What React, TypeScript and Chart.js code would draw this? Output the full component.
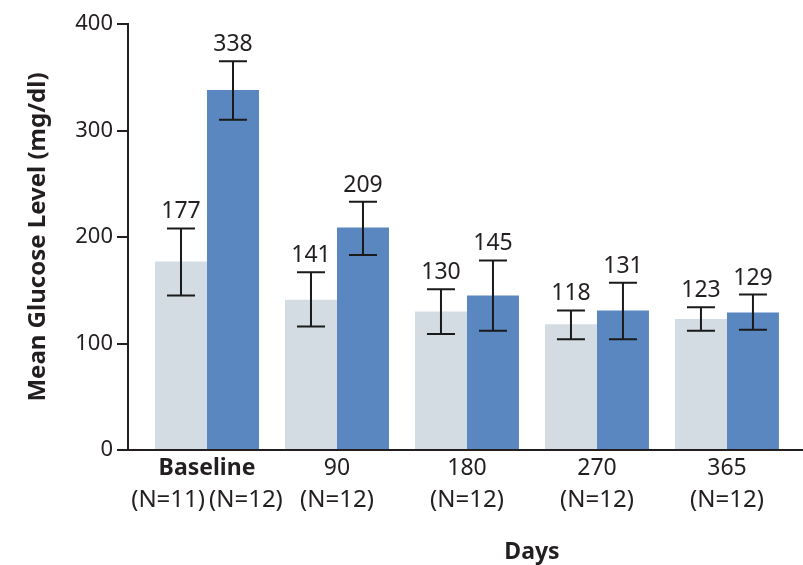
import React, { useEffect, useRef } from 'react';
import { Chart, registerables } from 'chart.js';

Chart.register(...registerables);

const dayLabels = ['Baseline', '90', '180', '270', '365'];
const nLabels = ['(N=11)\u2009(N=12)', '(N=12)', '(N=12)', '(N=12)', '(N=12)'];
const axisTitleX = 'Days';
const axisTitleY = 'Mean Glucose Level (mg/dl)';

const seriesA = [177, 141, 130, 118, 123];
const seriesALow = [145, 116, 109, 104, 112];
const seriesAHigh = [208, 167, 151, 131, 134];

const seriesB = [338, 209, 145, 131, 129];
const seriesBLow = [310, 183, 112, 104, 113];
const seriesBHigh = [365, 233, 178, 157, 146];

const yMin = 0;
const yMax = 400;
const yStep = 100;

const FONT = '"Noto Sans", "Open Sans", sans-serif';
const INK = '#231f20';

const lows = [seriesALow, seriesBLow];
const highs = [seriesAHigh, seriesBHigh];

const X_MIN = -0.6077;
const X_MAX = 4.585;

const errorBarPlugin = {
  id: 'errorBarsAndLabels',
  afterDatasetsDraw(chart: any) {
    const ctx = chart.ctx;
    const y = chart.scales.y;
    chart.data.datasets.forEach((ds: any, di: number) => {
      const meta = chart.getDatasetMeta(di);
      meta.data.forEach((el: any, i: number) => {
        const x = el.x;
        const top = y.getPixelForValue(highs[di][i]);
        const bot = y.getPixelForValue(lows[di][i]);
        const cap = 14;
        ctx.save();
        ctx.strokeStyle = '#1a1a1a';
        ctx.lineWidth = 2;
        ctx.beginPath();
        ctx.moveTo(x, top);
        ctx.lineTo(x, bot);
        ctx.moveTo(x - cap, top);
        ctx.lineTo(x + cap, top);
        ctx.moveTo(x - cap, bot);
        ctx.lineTo(x + cap, bot);
        ctx.stroke();
        ctx.fillStyle = INK;
        ctx.font = `23px ${FONT}`;
        ctx.textAlign = 'center';
        ctx.textBaseline = 'alphabetic';
        ctx.fillText(String(ds.data[i].y), x, top - 10);
        ctx.restore();
      });
    });
  },
};

const tickSetter = (values: number[]) => (scale: any) => {
  scale.ticks = values.map((v) => ({ value: v }));
};

export default function App() {
  const canvasRef = useRef<HTMLCanvasElement | null>(null);

  useEffect(() => {
    if (!canvasRef.current) return;
    const idx = dayLabels.map((_, i) => i);
    const chart = new Chart(canvasRef.current, {
      type: 'bar',
      data: {
        datasets: [
          {
            label: 'Group 1',
            data: seriesA.map((v, i) => ({ x: i, y: v })),
            backgroundColor: '#d3dce3',
            borderWidth: 0,
            xAxisID: 'x',
            yAxisID: 'y',
            categoryPercentage: 0.8,
            barPercentage: 1.0,
          },
          {
            label: 'Group 2',
            data: seriesB.map((v, i) => ({ x: i, y: v })),
            backgroundColor: '#5b87c0',
            borderWidth: 0,
            xAxisID: 'x',
            yAxisID: 'y',
            categoryPercentage: 0.8,
            barPercentage: 1.0,
          },
        ],
      },
      options: {
        animation: false,
        responsive: true,
        maintainAspectRatio: false,
        layout: { padding: { top: 24, right: 0, bottom: 0, left: 0 } },
        plugins: {
          legend: { display: false },
          tooltip: { enabled: false },
        },
        scales: {
          x: {
            type: 'linear',
            axis: 'x',
            position: 'bottom',
            weight: 0,
            min: X_MIN,
            max: X_MAX,
            offset: false,
            afterBuildTicks: tickSetter(idx),
            afterFit: (s: any) => {
              s.height = 36;
            },
            grid: { display: false, drawTicks: false },
            border: { display: true, color: INK, width: 2 },
            ticks: {
              autoSkip: false,
              maxRotation: 0,
              padding: 5,
              color: INK,
              font: (c: any) => ({ family: FONT, size: 23, weight: c.index === 0 ? 'bold' : 'normal' }),
              callback: (_v: any, i: number) => dayLabels[i],
            },
          },
          x2: {
            type: 'linear',
            axis: 'x',
            position: 'bottom',
            weight: 1,
            min: X_MIN,
            max: X_MAX,
            offset: false,
            afterBuildTicks: tickSetter(idx),
            afterFit: (s: any) => {
              s.height = 30;
            },
            grid: { display: false, drawTicks: false },
            border: { display: false },
            ticks: {
              autoSkip: false,
              maxRotation: 0,
              padding: 0,
              color: INK,
              font: { family: FONT, size: 24 },
              callback: (_v: any, i: number) => nLabels[i],
            },
          },
          x3: {
            type: 'linear',
            axis: 'x',
            position: 'bottom',
            weight: 2,
            min: X_MIN,
            max: X_MAX,
            offset: false,
            afterBuildTicks: tickSetter([2.5]),
            afterFit: (s: any) => {
              s.height = 49;
            },
            grid: { display: false, drawTicks: false },
            border: { display: false },
            ticks: {
              autoSkip: false,
              maxRotation: 0,
              padding: 23,
              color: INK,
              font: { family: FONT, size: 23, weight: 'bold' },
              callback: () => axisTitleX,
            },
          },
          y: {
            type: 'linear',
            position: 'left',
            min: yMin,
            max: yMax,
            afterFit: (s: any) => {
              s.width = 128;
            },
            grid: {
              display: true,
              drawOnChartArea: false,
              drawTicks: true,
              tickLength: 11,
              color: INK,
              lineWidth: 2,
            },
            border: { display: true, color: INK, width: 2 },
            ticks: {
              stepSize: yStep,
              padding: 4,
              color: INK,
              font: { family: FONT, size: 22 },
            },
            title: {
              display: true,
              text: axisTitleY,
              color: INK,
              font: { family: FONT, size: 24, weight: 'bold' },
              padding: { top: 24, bottom: 0 },
            },
          },
        },
      },
      plugins: [errorBarPlugin],
    });
    return () => chart.destroy();
  }, []);

  return (
    <div style={{ position: 'fixed', left: 0, top: 0, width: 803, height: 565, background: '#fff' }}>
      <canvas ref={canvasRef} />
    </div>
  );
}
